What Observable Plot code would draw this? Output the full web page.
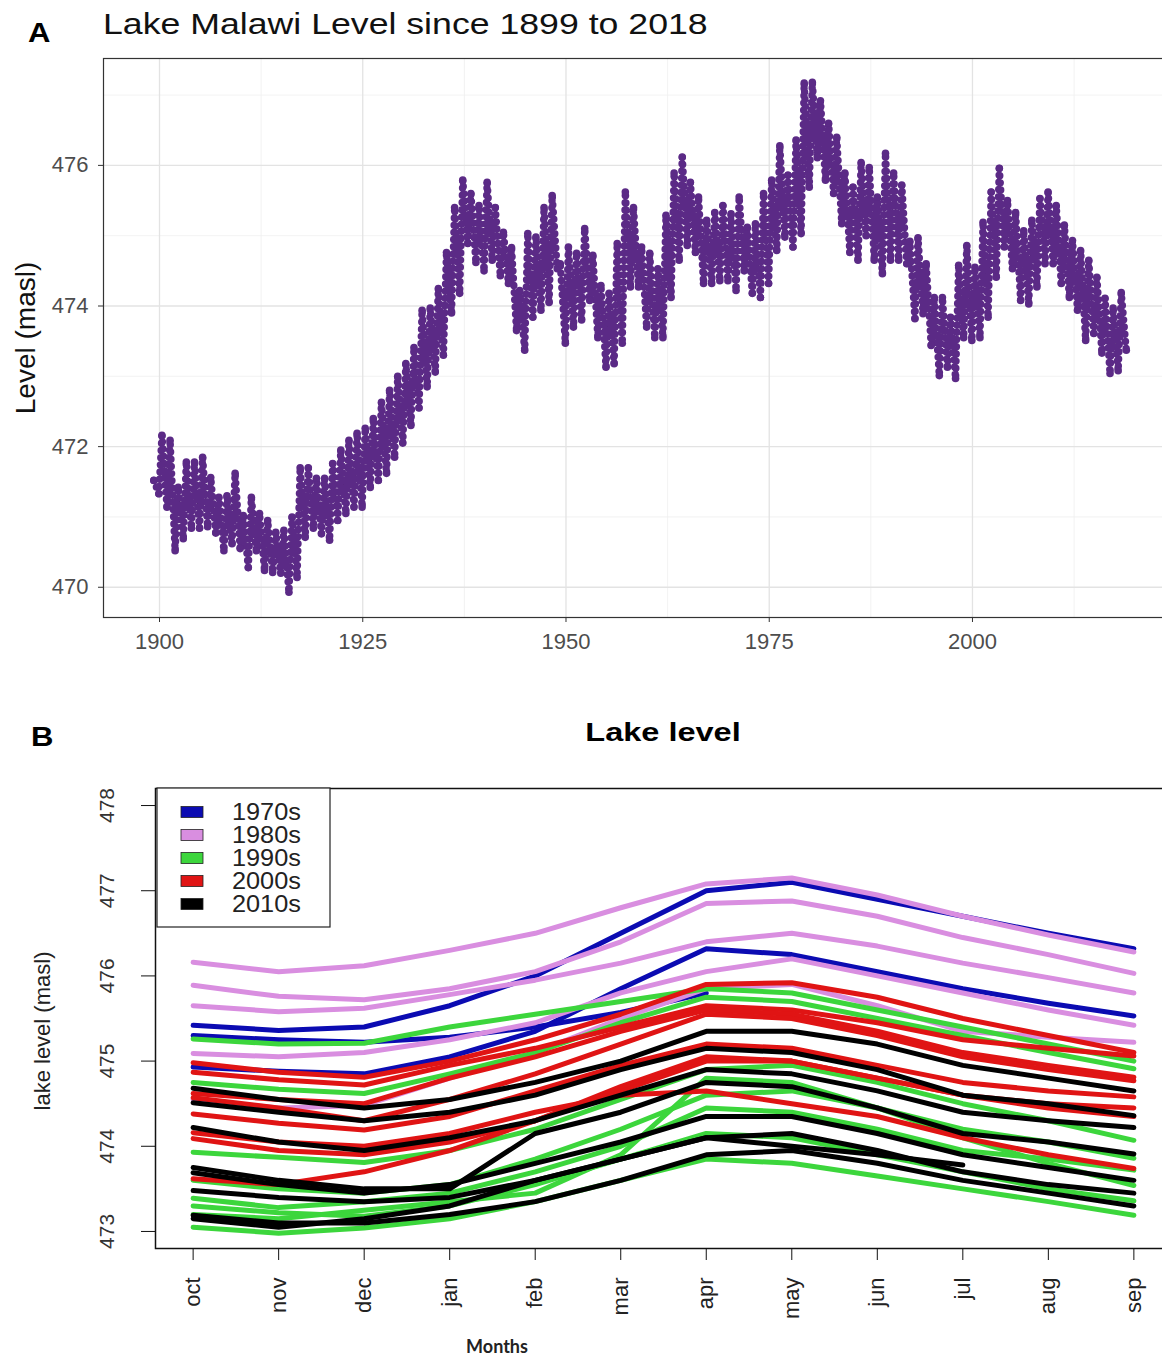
<!DOCTYPE html>
<html>
<head>
<meta charset="utf-8">
<script src="https://cdn.jsdelivr.net/npm/d3@7"></script>
<script src="https://cdn.jsdelivr.net/npm/@observablehq/plot@0.6"></script>
<style>
  html, body { margin: 0; padding: 0; background: #fff; overflow: hidden; }
  #page { position: relative; width: 1162px; height: 1358px; overflow: hidden; background: #fff; }
  #page svg { position: absolute; left: 0; }
</style>
</head>
<body>
<div id="page"></div>
<script>
// ---------- Panel A: yearly high (April) and low (December) lake level, 1899-2018 ----------
const years = d3.range(1899, 2019);
const annualHigh = [
  471.52, 472.16, 472.09, 471.42, 471.78, 471.78, 471.85, 471.56, 471.28, 471.30,
  471.62, 471.02, 471.28, 471.05, 470.95, 470.78, 470.81, 471.00, 471.70, 471.70,
  471.55, 471.55, 471.76, 471.95, 472.09, 472.19, 472.26, 472.40, 472.63, 472.80,
  473.00, 473.18, 473.41, 473.94, 473.97, 474.25, 474.76, 475.40, 475.79, 475.60,
  475.43, 475.76, 475.40, 475.05, 474.83, 474.22, 475.03, 474.98, 475.40, 475.57,
  474.60, 474.84, 474.75, 475.10, 474.72, 474.29, 474.18, 474.89, 475.62, 475.40,
  474.84, 474.75, 474.53, 475.29, 475.89, 476.12, 475.76, 475.55, 475.22, 475.33,
  475.43, 475.31, 475.55, 475.12, 475.17, 475.60, 475.79, 476.28, 475.86, 476.36,
  477.17, 477.18, 476.92, 476.60, 476.40, 475.89, 475.69, 476.04, 475.97, 475.55,
  476.17, 475.89, 475.72, 474.92, 474.97, 474.60, 474.12, 474.12, 473.84, 474.58,
  474.86, 474.55, 475.19, 475.62, 475.96, 475.50, 475.33, 475.07, 475.22, 475.53,
  475.62, 475.43, 475.15, 474.93, 474.79, 474.65, 474.41, 474.11, 473.97, 474.19
];
const annualLow = [
  471.33, 471.14, 470.52, 470.69, 470.84, 470.84, 470.86, 470.77, 470.52, 470.62,
  470.55, 470.28, 470.52, 470.24, 470.21, 470.20, 469.93, 470.14, 470.71, 470.84,
  470.76, 470.67, 470.95, 471.05, 471.14, 471.14, 471.42, 471.52, 471.62, 471.85,
  472.05, 472.30, 472.55, 472.85, 473.06, 473.30, 473.90, 474.18, 474.89, 474.62,
  474.50, 474.65, 474.43, 474.32, 473.65, 473.37, 473.84, 473.94, 474.05, 474.53,
  473.47, 473.70, 473.80, 474.08, 473.55, 473.13, 473.18, 473.47, 474.27, 474.27,
  473.70, 473.55, 473.55, 474.12, 474.65, 474.86, 474.76, 474.32, 474.32, 474.36,
  474.36, 474.22, 474.50, 474.18, 474.12, 474.32, 474.79, 474.98, 474.84, 475.03,
  475.69, 476.11, 475.79, 475.60, 475.17, 474.76, 474.65, 475.00, 474.65, 474.46,
  474.65, 474.65, 474.60, 473.82, 473.89, 473.44, 473.01, 473.13, 472.97, 473.55,
  473.51, 473.55, 473.84, 474.41, 474.84, 474.53, 474.08, 474.03, 474.27, 474.60,
  474.60, 474.32, 474.12, 473.94, 473.51, 473.61, 473.33, 473.04, 473.08, 473.37
];
const yearTicks = [1900, 1925, 1950, 1975, 2000];
const yearMinorTicks = [1912.5, 1937.5, 1962.5, 1987.5, 2012.5];
const levelTicksA = [470, 472, 474, 476];
const levelMinorTicksA = [471, 473, 475, 477];

// ---------- Panel B: seasonal cycle (October-September) per hydrological year ----------
const monthNames = ["oct", "nov", "dec", "jan", "feb", "mar", "apr", "may", "jun", "jul", "aug", "sep"];
const decades = ["1970s", "1980s", "1990s", "2000s", "2010s"];
const decadeColors = ["#0b0bb2", "#d98ee0", "#3cd63c", "#e01414", "#000000"];
const levels1970s = [
  [475.42, 475.36, 475.40, 475.65, 476.00, 476.50, 477.00, 477.10, 476.90, 476.70, 476.50, 476.32],
  [474.93, 474.88, 474.85, 475.05, 475.35, 475.85, 476.32, 476.25, 476.05, 475.85, 475.68, 475.53],
  [475.30, 475.25, 475.22, 475.28, 475.40, 475.57, 475.80, null, null, null, null, null]
];
const levels1980s = [
  [476.16, 476.05, 476.12, 476.30, 476.50, 476.80, 477.08, 477.15, 476.95, 476.70, 476.48, 476.28],
  [475.89, 475.76, 475.72, 475.85, 476.05, 476.40, 476.85, 476.88, 476.70, 476.45, 476.25, 476.03],
  [475.65, 475.58, 475.62, 475.78, 475.95, 476.15, 476.40, 476.50, 476.35, 476.15, 475.98, 475.80],
  [475.09, 475.05, 475.10, 475.25, 475.45, 475.80, 476.05, 476.20, 476.00, 475.80, 475.60, 475.42],
  [474.55, 474.45, 474.48, 474.80, 475.10, 475.50, 475.85, 475.90, 475.65, 475.35, 475.28, 475.22]
];
const levels1990s = [
  [475.26, 475.20, 475.21, 475.40, 475.55, 475.70, 475.85, 475.80, 475.60, 475.40, 475.20, 475.00],
  [474.75, 474.67, 474.62, 474.85, 475.10, 475.45, 475.75, 475.70, 475.50, 475.30, 475.10, 474.91],
  [473.93, 473.87, 473.81, 473.95, 474.20, 474.55, 474.90, 474.95, 474.75, 474.50, 474.30, 474.07],
  [473.60, 473.50, 473.45, 473.55, 473.85, 474.20, 474.60, 474.65, 474.45, 474.20, 474.05, 473.86],
  [473.39, 473.28, 473.35, 473.45, 473.70, 474.00, 474.45, 474.40, 474.20, 473.95, 473.85, 473.72],
  [473.20, 473.15, 473.25, 473.35, 473.45, 473.90, 474.80, 474.75, 474.45, 474.10, 473.80, 473.54],
  [473.05, 472.98, 473.04, 473.15, 473.35, 473.60, 473.85, 473.80, 473.65, 473.50, 473.35, 473.19],
  [473.30, 473.22, 473.18, 473.30, 473.55, 473.85, 474.15, 474.10, 473.90, 473.70, 473.50, 473.36]
];
const levels2000s = [
  [474.98, 474.87, 474.81, 475.00, 475.25, 475.55, 475.90, 475.92, 475.75, 475.50, 475.30, 475.10],
  [474.87, 474.78, 474.72, 474.95, 475.15, 475.40, 475.65, 475.60, 475.45, 475.25, 475.15, 475.06],
  [474.62, 474.55, 474.50, 474.80, 475.05, 475.35, 475.60, 475.55, 475.35, 475.10, 474.95, 474.81],
  [474.57, 474.45, 474.30, 474.55, 474.85, 475.20, 475.55, 475.50, 475.30, 475.05, 474.90, 474.77],
  [474.38, 474.27, 474.19, 474.35, 474.65, 474.95, 475.20, 475.15, 474.95, 474.75, 474.65, 474.58],
  [474.16, 474.05, 474.00, 474.15, 474.40, 474.60, 474.65, 474.50, 474.35, 474.10, 473.90, 473.74],
  [474.09, 473.95, 473.90, 474.05, 474.30, 474.65, 475.00, 475.00, 474.80, 474.60, 474.50, 474.45],
  [473.62, 473.55, 473.70, 473.95, 474.30, 474.70, 475.05, 475.00, 474.80, 474.60, 474.45, 474.35]
];
const levels2010s = [
  [474.68, 474.55, 474.45, 474.55, 474.75, 475.00, 475.35, 475.35, 475.20, 474.95, 474.80, 474.65],
  [474.51, 474.40, 474.30, 474.40, 474.60, 474.90, 475.15, 475.10, 474.90, 474.60, 474.50, 474.36],
  [474.22, 474.05, 473.95, 474.10, 474.30, 474.60, 474.90, 474.85, 474.65, 474.40, 474.30, 474.22],
  [473.75, 473.60, 473.50, 473.50, 474.15, 474.40, 474.75, 474.70, 474.45, 474.15, 474.05, 473.91],
  [473.69, 473.55, 473.45, 473.55, 473.80, 474.05, 474.35, 474.35, 474.15, 473.90, 473.75, 473.60],
  [473.48, 473.40, 473.35, 473.40, 473.60, 473.85, 474.10, 474.15, 473.95, 473.70, 473.55, 473.45],
  [473.19, 473.10, 473.10, 473.20, 473.35, 473.60, 473.90, 473.95, 473.80, 473.60, 473.45, 473.30],
  [473.15, 473.05, 473.15, 473.30, 473.60, 473.85, 474.10, 474.00, 473.90, 473.78, null, null]
];
const levelTicksB = [473, 474, 475, 476, 477, 478];

// ---------- styling ----------
const FONT = '"Liberation Sans", Arial, Helvetica, sans-serif';
const PURPLE = "#5b2a86";
const page = document.getElementById("page");

// zig-zag sequence: April peak, then December trough of each year
const levelSeq = years.flatMap((yr, i) => [
  {t: yr + 0.30, v: annualHigh[i]},
  {t: yr + 0.92, v: annualLow[i]}
]);

const plotA = Plot.plot({
  width: 1180,
  height: 680,
  marginTop: 58,
  marginBottom: 63,
  marginLeft: 103,
  marginRight: 6,
  x: {domain: [1893.11, 2024.85]},
  y: {domain: [469.57, 477.52]},
  style: {fontFamily: FONT, background: "transparent", maxWidth: "none", overflow: "visible"},
  marks: [
    Plot.gridX(yearMinorTicks, {stroke: "#efefef", strokeOpacity: 1, strokeWidth: 0.8}),
    Plot.gridY(levelMinorTicksA, {stroke: "#efefef", strokeOpacity: 1, strokeWidth: 0.8}),
    Plot.gridX(yearTicks, {stroke: "#e3e3e3", strokeOpacity: 1, strokeWidth: 1.3}),
    Plot.gridY(levelTicksA, {stroke: "#e3e3e3", strokeOpacity: 1, strokeWidth: 1.3}),
    Plot.line(levelSeq, {x: "t", y: "v", stroke: "#151515", strokeWidth: 1.1}),
    Plot.line(levelSeq, {x: "t", y: "v", stroke: PURPLE, strokeWidth: 7.4, strokeDasharray: "0 7.2", strokeLinecap: "round"}),
    Plot.dot(levelSeq, {x: "t", y: "v", r: 3.8, fill: PURPLE}),
    Plot.frame({stroke: "#333", strokeWidth: 1.2}),
    Plot.axisX(yearTicks, {tickSize: 5, tickPadding: 11, fontSize: 22, fill: "#4d4d4d", stroke: "#333", tickFormat: "d", label: null}),
    Plot.axisY(levelTicksA, {tickSize: 5, tickPadding: 10, fontSize: 22, fill: "#4d4d4d", stroke: "#333", tickFormat: "d", label: null})
  ]
});
plotA.style.top = "0px";
page.appendChild(plotA);

// one row per month per hydrological year
const decadeLevels = [levels1970s, levels1980s, levels1990s, levels2000s, levels2010s];
const seasonRows = decades.flatMap((dec, di) =>
  decadeLevels[di].flatMap((row, j) =>
    row.map((level, m) => ({decade: dec, id: `${dec}-${j}`, month: m + 1, level}))
  )
);

const plotB = Plot.plot({
  width: 1180,
  height: 658,
  marginTop: 88,
  marginBottom: 110,
  marginLeft: 155,
  marginRight: 9,
  x: {domain: [0.56, 12.44]},
  y: {domain: [472.8, 478.2]},
  color: {domain: decades, range: decadeColors},
  style: {fontFamily: FONT, background: "transparent", maxWidth: "none", overflow: "visible"},
  marks: [
    Plot.line(seasonRows, {x: "month", y: "level", z: "id", stroke: "decade", strokeWidth: 5, strokeLinejoin: "round"}),
    Plot.frame({stroke: "#111", strokeWidth: 1.5}),
    Plot.axisX(d3.range(1, 13), {tickFormat: i => monthNames[i - 1], tickRotate: -90, tickSize: 12, tickPadding: 17, fontSize: 22, fill: "#222", stroke: "#111", label: null}),
    Plot.axisY(levelTicksB, {tickRotate: -90, tickSize: 14, tickPadding: 28, fontSize: 21, fill: "#333", stroke: "#111", tickFormat: "d", label: null})
  ]
});
plotB.style.top = "700px";
page.appendChild(plotB);

// ---------- titles, axis titles and legend ----------
const overlay = d3.create("svg")
  .attr("width", 1162).attr("height", 1358)
  .style("top", "0px")
  .style("font-family", FONT);

function label(txt, x, y, opts = {}) {
  const t = overlay.append("text")
    .attr("transform", `translate(${x},${y})` + (opts.rotate ? ` rotate(${opts.rotate})` : "") + (opts.sx ? ` scale(${opts.sx},1)` : ""))
    .attr("font-size", opts.size || 20)
    .attr("font-weight", opts.bold ? "bold" : "normal")
    .attr("fill", opts.fill || "#000")
    .attr("text-anchor", opts.anchor || "start")
    .text(txt);
  if (opts.family) t.attr("font-family", opts.family);
  return t;
}

label("A", 28, 42, {size: 27, bold: true, sx: 1.15});
label("Lake Malawi Level since 1899 to 2018", 103, 34, {size: 29, sx: 1.23, fill: "#111"});
label("Level (masl)", 35, 338, {size: 28, rotate: -90, anchor: "middle", fill: "#111"});

label("B", 31, 746, {size: 27, bold: true, sx: 1.15});
label("Lake level", 663, 741, {size: 26, bold: true, sx: 1.25, anchor: "middle"});
label("lake level (masl)", 50, 1031, {size: 22, rotate: -90, anchor: "middle", fill: "#222"});
label("Months", 497, 1353, {size: 18, bold: true, anchor: "middle", family: "Lato, 'Open Sans', sans-serif", fill: "#222"});

// legend box in the top-left corner of panel B
const legend = overlay.append("g");
legend.append("rect")
  .attr("x", 157).attr("y", 788).attr("width", 173).attr("height", 139)
  .attr("fill", "#fff").attr("stroke", "#222").attr("stroke-width", 1.2);
decades.forEach((dec, i) => {
  const cy = 812 + i * 23;
  legend.append("rect")
    .attr("x", 181).attr("y", cy - 5.5).attr("width", 22).attr("height", 11)
    .attr("fill", decadeColors[i]).attr("stroke", "#222").attr("stroke-width", 0.8);
  legend.append("text")
    .attr("transform", `translate(232,${cy + 8}) scale(1.1,1)`)
    .attr("font-size", 23).attr("fill", "#222")
    .text(dec);
});

page.appendChild(overlay.node());
</script>
</body>
</html>
